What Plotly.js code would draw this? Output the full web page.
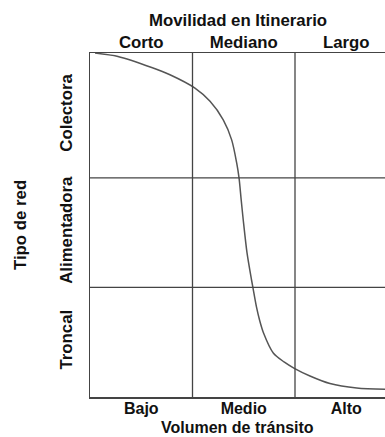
<!DOCTYPE html>
<html>
<head>
<meta charset="utf-8">
<script src="https://cdn.plot.ly/plotly-3.0.1.min.js"></script>
<style>
html,body{margin:0;padding:0;overflow:hidden;background:#fff;}
#chart{width:385px;height:437px;}
</style>
</head>
<body>
<div id="chart"></div>
<script>
// Curve (relative position: x = volumen cell units, y = tipo de red cell units)
const curveX = [0.049, 0.273, 0.602, 0.780, 1.024, 1.171, 1.300, 1.382, 1.431, 1.454, 1.475, 1.495, 1.532, 1.576, 1.590, 1.624, 1.654, 1.693, 1.788, 1.893, 1.993, 2.146, 2.341, 2.602, 2.878];
const curveY = [3.139, 3.108, 3.007, 2.941, 2.819, 2.699, 2.530, 2.347, 2.137, 2.000, 1.799, 1.616, 1.315, 1.068, 0.995, 0.822, 0.703, 0.584, 0.402, 0.320, 0.262, 0.192, 0.123, 0.082, 0.070];

const volumenLabels = ["Bajo", "Medio", "Alto"];
const movilidadLabels = ["Corto", "Mediano", "Largo"];
const redLabels = ["Troncal", "Alimentadora", "Colectora"];
const colPositions = [0.5, 1.5, 2.5];
const rowPositions = [0.5, 1.5, 2.57];
const colBounds = [1, 2];
const rowBounds = [1, 2];

const xRange = [0, 2.878];
const yRange = [0, 3.14];

const font = {family: "Liberation Sans, Arial, sans-serif", size: 16.8, color: "#111", weight: "bold"};
const fontB = {family: "Liberation Sans, Arial, sans-serif", size: 16, color: "#111", weight: "bold"};
const lineCol = "#444";

const shapes = [];
colBounds.forEach(v => shapes.push({type: "line", xref: "x", yref: "y", x0: v, x1: v, y0: yRange[0], y1: yRange[1], line: {color: lineCol, width: 1.3}}));
rowBounds.forEach(v => shapes.push({type: "line", xref: "x", yref: "y", x0: xRange[0], x1: xRange[1], y0: v, y1: v, line: {color: lineCol, width: 1.3}}));

const traces = [{
  x: curveX, y: curveY, type: "scatter", mode: "lines",
  line: {shape: "spline", smoothing: 0.8, color: "#555", width: 1.5},
  hoverinfo: "skip", showlegend: false
}, {
  x: [], y: [], xaxis: "x2", yaxis: "y", type: "scatter", showlegend: false
}];

const layout = {
  width: 385, height: 437,
  margin: {l: 90, r: 0, t: 53, b: 40},
  paper_bgcolor: "#fff", plot_bgcolor: "#fff",
  font: font,
  showlegend: false,
  xaxis: {
    range: xRange, showgrid: false, zeroline: false,
    showline: true, linecolor: lineCol, linewidth: 1.5, mirror: false,
    tickmode: "array", tickvals: colPositions, ticktext: volumenLabels,
    ticks: "", ticklabelstandoff: -4,
    tickfont: fontB
  },
  xaxis2: {
    range: xRange, overlaying: "x", side: "top", showgrid: false, zeroline: false,
    showline: true, linecolor: lineCol, linewidth: 1.5,
    tickmode: "array", tickvals: colPositions, ticktext: movilidadLabels,
    ticks: "", ticklabelstandoff: -3,
    tickfont: font
  },
  yaxis: {
    range: yRange, showgrid: false, zeroline: false,
    showline: true, linecolor: lineCol, linewidth: 1.5,
    tickmode: "array", tickvals: rowPositions, ticktext: redLabels,
    tickangle: -90,
    ticks: "outside", ticklen: 10, tickcolor: "rgba(0,0,0,0)",
    tickfont: font
  },
  annotations: [
    {text: "Movilidad en Itinerario", xref: "paper", yref: "paper", x: 0.5, y: 1 + 33/344, xanchor: "center", yanchor: "middle", showarrow: false, font: font},
    {text: "Volumen de tránsito", xref: "paper", yref: "paper", x: 0.5, y: -40/344, xanchor: "center", yanchor: "bottom", showarrow: false, borderpad: 0, font: fontB},
    {text: "Tipo de red", xref: "paper", yref: "paper", x: -70/295, y: 0.5, xanchor: "center", yanchor: "middle", textangle: -90, showarrow: false, font: font}
  ],
  shapes: shapes
};

Plotly.newPlot("chart", traces, layout, {displayModeBar: false, staticPlot: true});
</script>
</body>
</html>
